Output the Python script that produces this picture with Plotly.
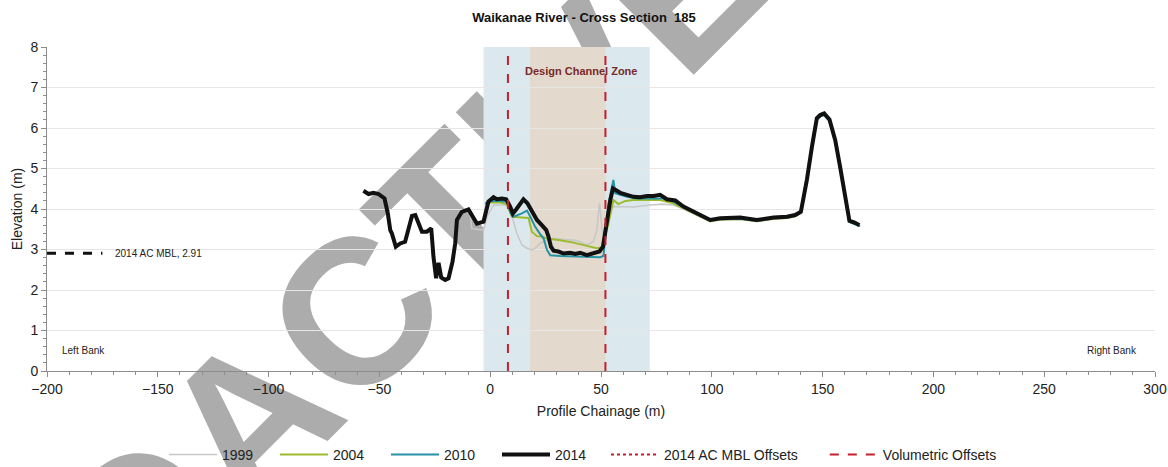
import plotly.graph_objects as go

# ---------------- data ----------------
x2014 = [-57.2, -54.9, -52.7, -50.4, -47.7, -46.2, -45.1, -44.4, -42.6, -40.6, -38.4, -36.6, -35.3, -33.8,
         -32.4, -30.8, -28.6, -26.6, -25.6, -24.4, -23.3, -22.1, -20.3, -18.8, -17.0, -15.8, -15.0, -12.8,
         -9.8, -8.3, -6.0, -3.0, -0.8, 1.5, 3.0, 5.3, 7.2, 9.0, 10.2, 11.7, 13.5, 15.0, 16.8, 18.8, 21.1,
         23.3, 25.3, 26.3, 27.4, 28.6, 30.8, 33.1, 36.1, 38.4, 40.6, 43.6, 46.6, 49.3, 50.9, 51.9, 52.9,
         54.2, 55.4, 57.2, 58.7, 61.7, 64.7, 67.7, 70.7, 73.7, 76.7, 79.7, 83.5, 87.2, 91.7, 96.3, 99.3,
         103.8, 108.3, 112.8, 120.3, 127.9, 133.9, 137.6, 140.2, 142.9, 145.2, 147.4, 148.9, 150.7, 153.1,
         155.7, 157.9, 160.2, 162.1, 164.7, 166.6]
y2014 = [4.45, 4.37, 4.40, 4.37, 4.26, 3.89, 3.48, 3.40, 3.07, 3.15, 3.19, 3.56, 3.83, 3.85,
         3.64, 3.44, 3.44, 3.52, 2.82, 2.29, 2.67, 2.31, 2.25, 2.29, 2.70, 3.15, 3.73, 3.93,
         3.99, 3.85, 3.64, 3.69, 4.18, 4.29, 4.24, 4.26, 4.24, 4.06, 3.89, 3.99, 4.14, 4.24, 4.14, 3.93, 3.73,
         3.60, 3.48, 3.32, 3.07, 2.97, 2.95, 2.90, 2.92, 2.89, 2.92, 2.86, 2.90, 2.95, 3.07, 3.44, 3.81,
         4.22, 4.51, 4.45, 4.40, 4.35, 4.30, 4.29, 4.32, 4.32, 4.35, 4.24, 4.21, 4.06, 3.93, 3.81, 3.73,
         3.77, 3.77, 3.79, 3.73, 3.79, 3.81, 3.85, 3.93, 4.72, 5.54, 6.24, 6.32, 6.36, 6.21,
         5.70, 5.04, 4.30, 3.71, 3.66, 3.60]

x2010 = [-2.3, 0.0, 4.5, 7.5, 9.3, 10.5, 14.3, 16.6, 18.1, 20.3, 22.3, 24.1, 25.6, 27.1, 31.6, 40.6,
         49.6, 51.1, 52.3, 53.4, 55.6, 56.4, 58.7, 61.7, 66.0, 72.0, 78.0, 82.0, 87.2, 91.7, 96.3,
         99.3, 103.8, 108.3, 112.8, 120.3, 127.9, 133.9, 137.6, 140.2, 142.9, 145.2, 147.4, 148.9,
         150.7, 153.1, 155.7, 157.9, 160.2, 162.1, 164.7, 167.0]
y2010 = [4.14, 4.20, 4.20, 4.18, 3.89, 3.81, 3.89, 3.96, 3.81, 3.56, 3.40, 3.27, 2.99, 2.86, 2.84, 2.82,
         2.81, 2.84, 3.48, 4.14, 4.72, 4.39, 4.35, 4.30, 4.26, 4.26, 4.26, 4.20, 4.04, 3.91, 3.79,
         3.71, 3.75, 3.75, 3.76, 3.71, 3.77, 3.79, 3.83, 3.91, 4.70, 5.50, 6.20, 6.28, 6.32, 6.17,
         5.66, 5.00, 4.26, 3.68, 3.62, 3.57]

x2004 = [-2.3, 0.0, 4.5, 7.5, 9.8, 15.8, 17.3, 18.8, 21.1, 23.3, 25.6, 31.6, 37.6, 43.6, 48.1, 50.4,
         51.9, 53.4, 55.6, 57.8, 61.0, 64.5, 70.0, 76.7, 82.6, 87.2, 91.7, 96.3, 99.3, 103.8, 108.3,
         112.8, 120.3, 127.9, 133.9, 137.6, 140.2]
y2004 = [4.12, 4.16, 4.16, 4.12, 3.81, 3.79, 3.78, 3.44, 3.33, 3.32, 3.27, 3.23, 3.17, 3.09, 3.03, 3.05,
         3.32, 3.64, 4.22, 4.12, 4.20, 4.22, 4.22, 4.22, 4.14, 4.02, 3.89, 3.77, 3.70, 3.74, 3.74,
         3.75, 3.70, 3.76, 3.78, 3.82, 3.90]

x1999 = [-9.0, -8.3, -3.0, -1.5, 1.5, 6.8, 9.0, 10.5, 12.0, 14.3, 16.6, 18.8, 20.3, 22.3, 25.6, 28.6,
         34.6, 39.1, 43.6, 46.6, 48.1, 49.3, 50.4, 51.4, 53.0, 55.6, 64.5, 72.0, 78.0, 82.6, 87.2,
         91.7, 96.3, 99.3, 103.8, 108.3, 112.8, 120.3, 127.9, 133.9, 137.6]
y1999 = [3.85, 3.52, 3.48, 3.81, 4.10, 4.10, 4.00, 3.73, 3.40, 3.11, 3.03, 2.99, 3.03, 3.15, 3.23, 3.27,
         3.25, 3.22, 3.11, 3.19, 3.48, 4.14, 3.56, 3.23, 3.85, 4.06, 4.05, 4.10, 4.12, 4.10, 4.00,
         3.88, 3.76, 3.69, 3.73, 3.73, 3.74, 3.69, 3.75, 3.77, 3.81]

mbl_level = 2.91
mbl_x = [-200, -175]
volumetric_offsets = [8, 52]
channel_zone = [-3, 72]
design_zone = [18, 52]
y_range = [0, 8]
x_range = [-200, 300]

FONT = "Liberation Sans, Arial, sans-serif"

fig = go.Figure()

# ---------------- background zones & watermark (shapes below traces) ----------------
fig.add_shape(type="rect", xref="x", yref="y", x0=channel_zone[0], x1=channel_zone[1],
              y0=y_range[0], y1=y_range[1], fillcolor="#dbe9ee", line_width=0, layer="below")
fig.add_shape(type="rect", xref="x", yref="y", x0=design_zone[0], x1=design_zone[1],
              y0=y_range[0], y1=y_range[1], fillcolor="#e3d9cc", line_width=0, layer="below")
fig.add_shape(type="rect", xref="paper", yref="paper", x0=0.219, x1=0.223, y0=0.069, y1=0.073,
              line_width=0, fillcolor="rgba(0,0,0,0)", layer="below",
              label=dict(text="PROACTIVE", textangle=-45, textposition="middle center",
                         font=dict(family=FONT, size=206, color="rgb(172,172,172)", weight="bold")))

# ---------------- traces ----------------
fig.add_trace(go.Scatter(x=x1999, y=y1999, mode="lines", name="1999",
                         line=dict(color="#c8c8c8", width=1.6)))
fig.add_trace(go.Scatter(x=x2004, y=y2004, mode="lines", name="2004",
                         line=dict(color="#9dbb2e", width=2)))
fig.add_trace(go.Scatter(x=x2010, y=y2010, mode="lines", name="2010",
                         line=dict(color="#2592a6", width=2)))
fig.add_trace(go.Scatter(x=x2014, y=y2014, mode="lines", name="2014",
                         line=dict(color="#111111", width=4)))
fig.add_trace(go.Scatter(x=[None], y=[None], mode="lines", name="2014 AC MBL Offsets", legend="legend3",
                         line=dict(color="#c0202a", width=2, dash="dot")))
vx, vy = [], []
for v in volumetric_offsets:
    vx += [v, v, None]
    vy += [y_range[0], y_range[1], None]
fig.add_trace(go.Scatter(x=vx, y=vy, mode="lines", name="Volumetric Offsets", legend="legend2",
                         line=dict(color="#c4202c", width=2, dash="dash")))
fig.add_trace(go.Scatter(x=mbl_x, y=[mbl_level, mbl_level], mode="lines", showlegend=False,
                         line=dict(color="#111111", width=3, dash="dash")))

# ---------------- annotations ----------------
fig.add_annotation(x=-170, y=mbl_level, text=f"2014 AC MBL, {mbl_level}", showarrow=False,
                   xanchor="left", yanchor="middle", font=dict(family=FONT, size=10, color="#222"))
fig.add_annotation(x=-194, y=0.5, text="Left Bank", showarrow=False, xanchor="left",
                   font=dict(family=FONT, size=10, color="#222"))
fig.add_annotation(x=293, y=0.5, text="Right Bank", showarrow=False, xanchor="right",
                   font=dict(family=FONT, size=10, color="#222"))
fig.add_annotation(x=41, y=7.4, text="<b>Design Channel Zone</b>", showarrow=False,
                   font=dict(family=FONT, size=11, color="#7a2a2a"))

axis_common = dict(showline=True, linecolor="#8c8c8c", linewidth=1, ticks="outside",
                   tickcolor="#8c8c8c", ticklen=5, zeroline=False, automargin=False,
                   tickfont=dict(family=FONT, size=14, color="#222"))

legend_font = dict(family=FONT, size=14, color="#222")

fig.update_layout(
    width=1168, height=467,
    margin=dict(l=47, r=13, t=47, b=96, autoexpand=False),
    paper_bgcolor="white", plot_bgcolor="white",
    title=dict(text="<b>Waikanae River - Cross Section  185</b>", x=0.5, xanchor="center",
               y=0.963, yanchor="middle", font=dict(family=FONT, size=13, color="#111")),
    xaxis=dict(range=x_range, dtick=50, tick0=0, showgrid=False,
               title=dict(text="Profile Chainage (m)", font=dict(family=FONT, size=14, color="#222"),
                          standoff=10),
               minor=dict(dtick=10, ticks="outside", ticklen=3, tickcolor="#8c8c8c"),
               **axis_common),
    yaxis=dict(range=y_range, dtick=1, showgrid=True, gridcolor="#e6e6e6", gridwidth=1,
               title=dict(text="Elevation (m)", font=dict(family=FONT, size=14, color="#222"),
                          standoff=4),
               minor=dict(dtick=0.2, ticks="outside", ticklen=3, tickcolor="#8c8c8c"),
               **axis_common),
    legend=dict(orientation="h", x=0.1056, y=-0.259, xanchor="left", yanchor="middle",
                entrywidth=48, entrywidthmode="pixels", itemwidth=48,
                font=legend_font, bgcolor="rgba(0,0,0,0)"),
    legend3=dict(orientation="h", x=0.5045, y=-0.259, xanchor="left", yanchor="middle", itemwidth=48,
                 font=legend_font, bgcolor="rgba(0,0,0,0)"),
    legend2=dict(orientation="h", x=0.702, y=-0.259, xanchor="left", yanchor="middle", itemwidth=48,
                 font=legend_font, bgcolor="rgba(0,0,0,0)"),
    showlegend=True,
)

fig.write_html("out.html", config={"displayModeBar": False},
               post_script="document.body.style.margin='0';")
